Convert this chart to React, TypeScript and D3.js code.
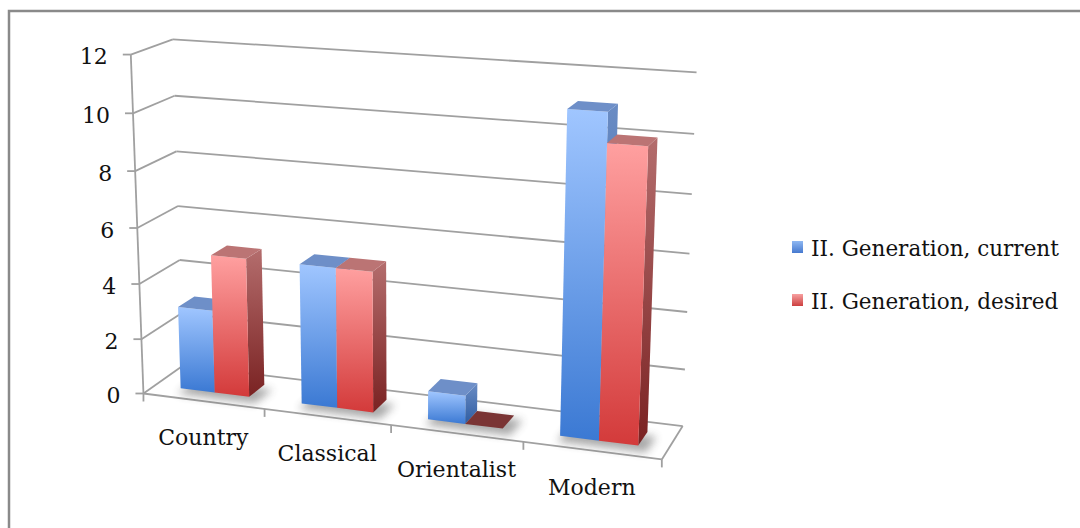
import { useEffect, useRef } from "react";
import * as d3 from "d3";

const categories = ["Country", "Classical", "Orientalist", "Modern"];
const currentValues = [3, 5, 1, 11];
const desiredValues = [5, 5, 0, 10];
const valueTicks = [0, 2, 4, 6, 8, 10, 12];
const seriesLabels = ["II. Generation, current", "II. Generation, desired"];

const FONT = "'DejaVu Serif', serif";
const GRID = "#a0a0a0";

// camera for the 3d box (world units ~ px at the box centre)
const YAW = (19.6 * Math.PI) / 180;
const PITCH = (15.5 * Math.PI) / 180;
const DIST = 2000;
const FOCAL = 2000;
const CX = 407;
const CY = 240.5;
const HALF_W = 276;
const HALF_H = 179.5;
const HALF_D = 47.5;

function project(X, Y, Z) {
  const x1 = X * Math.cos(YAW) + Z * Math.sin(YAW);
  const z1 = -X * Math.sin(YAW) + Z * Math.cos(YAW);
  const y2 = Y * Math.cos(PITCH) + z1 * Math.sin(PITCH);
  const z2 = -Y * Math.sin(PITCH) + z1 * Math.cos(PITCH);
  const s = FOCAL / (DIST + z2);
  return [CX + x1 * s, CY - y2 * s];
}

function Chart3D() {
  const ref = useRef(null);

  useEffect(() => {
    if (!ref.current) {
      return;
    }
    const svg = d3.select(ref.current);
    svg.selectAll("*").remove();

    const x = d3.scaleBand().domain(categories).range([-HALF_W, HALF_W]);
    const inner = d3.scaleBand().domain([0, 1]).range([0, x.bandwidth()]).paddingOuter(0.75);
    const y = d3.scaleLinear().domain([0, 12]).range([-HALF_H, HALF_H]);
    const y0 = y(0);

    const defs = svg.append("defs");
    const addGradient = (id, top, bottom) => {
      const g = defs.append("linearGradient").attr("id", id).attr("x1", 0).attr("y1", 0).attr("x2", 0).attr("y2", 1);
      g.append("stop").attr("offset", "0%").attr("stop-color", top);
      g.append("stop").attr("offset", "100%").attr("stop-color", bottom);
    };
    addGradient("blueFront", "#a0c6ff", "#3b79d3");
    addGradient("blueSide", "#6a8cc4", "#2f5da2");
    addGradient("redFront", "#ffa0a0", "#d33a3a");
    addGradient("redSide", "#b46d6d", "#7a2222");
    addGradient("blueKey", "#8fb8f2", "#4679cf");
    addGradient("redKey", "#f7a0a0", "#cc4040");
    defs
      .append("filter")
      .attr("id", "soft")
      .attr("x", "-50%")
      .attr("y", "-50%")
      .attr("width", "200%")
      .attr("height", "200%")
      .append("feGaussianBlur")
      .attr("stdDeviation", 4);

    const poly = (pts) => "M" + pts.map((p) => project(p[0], p[1], p[2]).join(",")).join("L") + "Z";
    const seg = (a, b) => {
      const p = project(a[0], a[1], a[2]);
      const q = project(b[0], b[1], b[2]);
      return `M${p[0]},${p[1]}L${q[0]},${q[1]}`;
    };

    // frame
    svg
      .append("rect")
      .attr("x", 9)
      .attr("y", 11)
      .attr("width", 1100)
      .attr("height", 540)
      .attr("fill", "none")
      .attr("stroke", "#8a8a8a")
      .attr("stroke-width", 2.5);

    // walls: gridlines on side wall and back wall
    const grid = svg.append("g").attr("fill", "none").attr("stroke", GRID).attr("stroke-width", 1.8);
    valueTicks.forEach((v) => {
      grid.append("path").attr("d", seg([-HALF_W, y(v), -HALF_D], [-HALF_W, y(v), HALF_D]));
      grid.append("path").attr("d", seg([-HALF_W, y(v), HALF_D], [HALF_W, y(v), HALF_D]));
    });
    // floor front + right edge
    grid.append("path").attr("d", seg([-HALF_W, y0, -HALF_D], [HALF_W, y0, -HALF_D]));
    grid.append("path").attr("d", seg([HALF_W, y0, -HALF_D], [HALF_W, y0, HALF_D]));
    // value axis
    grid.append("path").attr("d", seg([-HALF_W, y0, -HALF_D], [-HALF_W, y(12), -HALF_D]));
    valueTicks.forEach((v) => {
      const p = project(-HALF_W, y(v), -HALF_D);
      grid.append("path").attr("d", `M${p[0]},${p[1]}L${p[0] - 8},${p[1]}`);
      svg
        .append("text")
        .attr("x", p[0] - 23)
        .attr("y", p[1] + 2)
        .attr("text-anchor", "end")
        .attr("dominant-baseline", "central")
        .attr("font-family", FONT)
        .attr("font-size", 22)
        .attr("fill", "#111")
        .text(v);
    });
    // category ticks
    const bounds = categories.map((c) => x(c)).concat([HALF_W]);
    bounds.forEach((bx) => {
      const p = project(bx, y0, -HALF_D);
      grid.append("path").attr("d", `M${p[0]},${p[1]}L${p[0]},${p[1] + 8}`);
    });
    categories.forEach((c) => {
      const p = project(x(c) + x.bandwidth() / 2, y0, -HALF_D);
      svg
        .append("text")
        .attr("x", p[0])
        .attr("y", p[1] + 44)
        .attr("text-anchor", "middle")
        .attr("font-family", FONT)
        .attr("font-size", 22)
        .attr("fill", "#111")
        .text(c);
    });

    const bars = [];
    categories.forEach((c, i) => {
      [currentValues[i], desiredValues[i]].forEach((v, s) => {
        const bx0 = x(c) + inner(s);
        bars.push({ x0: bx0, x1: bx0 + inner.bandwidth(), v, s });
      });
    });
    const hd = inner.bandwidth() / 2;

    // shadows
    const shadows = svg.append("g").attr("filter", "url(#soft)").attr("opacity", 0.45);
    bars.forEach((b) => {
      shadows
        .append("path")
        .attr("transform", "translate(3,4)")
        .attr("d", poly([
          [b.x0 - 4, y0, -hd - 6],
          [b.x1 + 6, y0, -hd - 6],
          [b.x1 + 6, y0, hd],
          [b.x0 - 4, y0, hd]
        ]))
        .attr("fill", "#404040");
    });

    // bars, back (left) to front (right)
    const barG = svg.append("g");
    bars.forEach((b) => {
      const top = y(b.v);
      const blue = b.s === 0;
      if (b.v > 0) {
        barG
          .append("path")
          .attr("d", poly([[b.x1, y0, -hd], [b.x1, y0, hd], [b.x1, top, hd], [b.x1, top, -hd]]))
          .attr("fill", blue ? "url(#blueSide)" : "url(#redSide)");
        barG
          .append("path")
          .attr("d", poly([[b.x0, y0, -hd], [b.x1, y0, -hd], [b.x1, top, -hd], [b.x0, top, -hd]]))
          .attr("fill", blue ? "url(#blueFront)" : "url(#redFront)");
      }
      barG
        .append("path")
        .attr("d", poly([[b.x0, top, -hd], [b.x1, top, -hd], [b.x1, top, hd], [b.x0, top, hd]]))
        .attr("fill", b.v > 0 ? (blue ? "#6e8fc8" : "#bb7474") : blue ? "#2f5da2" : "#7a3434");
    });

    // legend
    seriesLabels.forEach((label, i) => {
      const ly = 256 + i * 53;
      svg
        .append("rect")
        .attr("x", 792)
        .attr("y", ly - 15)
        .attr("width", 11)
        .attr("height", 12)
        .attr("fill", i === 0 ? "url(#blueKey)" : "url(#redKey)");
      svg
        .append("text")
        .attr("x", 811)
        .attr("y", ly)
        .attr("font-family", FONT)
        .attr("font-size", 21.5)
        .attr("fill", "#111")
        .text(label);
    });
  }, []);

  return (
    <svg
      ref={ref}
      width={1080}
      height={528}
      style={{ position: "absolute", left: 0, top: 0, background: "#fff" }}
      role="img"
      aria-label="3D column chart of music preferences"
    />
  );
}

export default function App() {
  return <Chart3D />;
}
